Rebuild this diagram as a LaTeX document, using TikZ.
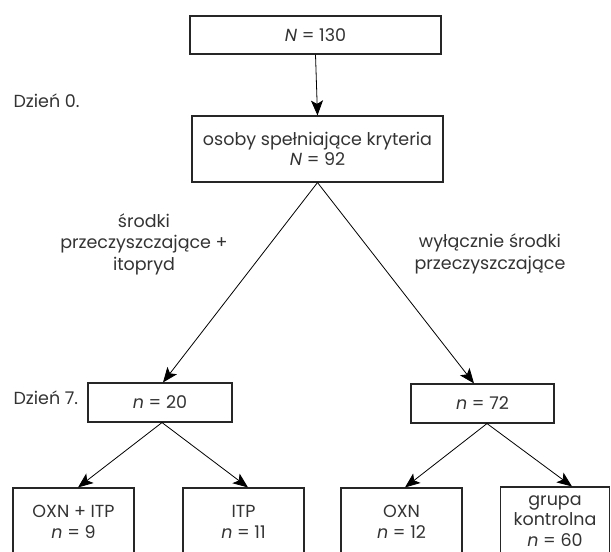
\documentclass[tikz,border=0pt]{standalone}
\usepackage{fontspec}
\setmainfont{Poppins}
\usetikzlibrary{arrows.meta}
\begin{document}
\begin{tikzpicture}[x=1pt, y=-1pt,
    box/.style={draw=black!85, line width=1.1pt, align=center, inner sep=0pt,
      text=black!80, font=\fontsize{17.5}{20.5}\selectfont},
    lbl/.style={align=center, text=black!80, font=\fontsize{17.5}{21.5}\selectfont},
    arr/.style={-{Stealth[length=15pt, width=12pt, inset=3.5pt]}, line width=0.8pt}]
  \useasboundingbox (0,0) rectangle (611,552);
  \clip (0,0) rectangle (611,552);
  % day 0
  \node[box, minimum width=251pt, minimum height=38pt] (all) at (315.5,35) {\textit{N} = 130};
  \node[box, minimum width=251pt, minimum height=66pt] (sel) at (317.5,149)
    {osoby spełniające kryteria\\\textit{N} = 92};
  \node[lbl, anchor=west] (d0) at (10,101) {Dzień 0.};
  % day 7
  \node[box, minimum width=144pt, minimum height=39pt] (g20) at (160,402.5) {\textit{n} = 20};
  \node[box, minimum width=143pt, minimum height=39pt] (g72) at (482.5,403.5) {\textit{n} = 72};
  \node[lbl, anchor=west] (d7) at (10,398) {Dzień 7.};
  \node[lbl] (litp) at (144,244) {środki\\przeczyszczające +\\itopryd};
  \node[lbl] (loxn) at (490,254) {wyłącznie środki\\przeczyszczające};
  % groups
  \node[box, minimum width=121pt, minimum height=68pt] (oxnitp) at (73.5,522) {OXN + ITP\\\textit{n} = 9};
  \node[box, minimum width=121pt, minimum height=68pt] (itp) at (243.5,522) {ITP\\\textit{n} = 11};
  \node[box, minimum width=121pt, minimum height=68pt] (oxn) at (401.5,522) {OXN\\\textit{n} = 12};
  \node[box, minimum width=109pt, minimum height=68pt] (ctrl) at (555,521) {grupa\\kontrolna\\\textit{n} = 60};
  % arrows
  \draw[arr] (all.south) -- (sel.north);
  \draw[arr] (sel.south) -- ([xshift=3pt]g20.north);
  \draw[arr] (sel.south) -- ([xshift=-8.5pt]g72.north);
  \draw[arr] ([xshift=2pt]g20.south) -- ([xshift=4.5pt]oxnitp.north);
  \draw[arr] ([xshift=2pt]g20.south) -- ([xshift=4.5pt]itp.north);
  \draw[arr] ([xshift=4.5pt]g72.south) -- ([xshift=3.5pt]oxn.north);
  \draw[arr] ([xshift=4.5pt]g72.south) -- ([xshift=17pt]ctrl.north);
\end{tikzpicture}
\end{document}
